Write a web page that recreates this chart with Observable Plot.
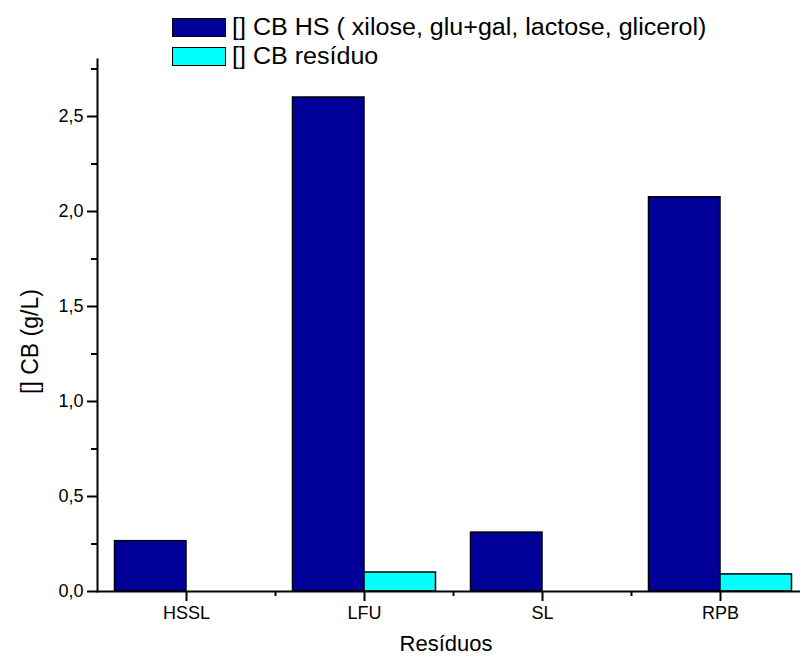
<!DOCTYPE html>
<html>
<head>
<meta charset="utf-8">
<script src="https://cdn.jsdelivr.net/npm/d3@7"></script>
<script src="https://cdn.jsdelivr.net/npm/@observablehq/plot@0.6"></script>
<style>
  body { margin: 0; background: #fff; overflow: hidden; }
  #chart { position: relative; width: 800px; height: 666px; }
  .legend { position: absolute; left: 172px; top: 13px; font-family: "Liberation Sans", Arial, sans-serif; font-size: 23px; color: #000; }
  .item { display: flex; align-items: center; height: 29px; }
  .sw { width: 52px; height: 17px; border: 1.5px solid #000; margin-right: 6px; flex: none; }
  .lbl { display: inline-block; white-space: nowrap; transform: scaleX(1.09); transform-origin: left center; }
</style>
</head>
<body>
<div id="chart"></div>
<script>
// Concentração de CB por resíduo
const categories = ["HSSL", "LFU", "SL", "RPB"];
const seriesNames = ["[] CB HS ( xilose, glu+gal, lactose, glicerol)", "[] CB resíduo"];
const hsValues = [0.265, 2.60, 0.31, 2.075];
const residuoValues = [0, 0.10, 0, 0.09];
const colors = ["#000099", "#00ffff"];
const yTicks = [0, 0.5, 1.0, 1.5, 2.0, 2.5];
const yMinorTicks = [0.25, 0.75, 1.25, 1.75, 2.25, 2.75];
const boundaryTicks = ["LFU", "SL", "RPB"];

const rows = categories.map((c, i) => ({category: c, hs: hsValues[i], residuo: residuoValues[i]}));
const fmt = d => d.toFixed(1).replace(".", ",");
const font = "'Liberation Sans', Arial, sans-serif";

const chart = Plot.plot({
  width: 800,
  height: 666,
  marginLeft: 97,
  marginRight: 0,
  marginTop: 59,
  marginBottom: 75,
  style: {fontFamily: font, color: "#000", background: "#fff"},
  x: {domain: categories, range: [97, 809], padding: 0, axis: null},
  y: {domain: [0, 2.8], axis: null},
  marks: [
    Plot.barY(rows, {x: "category", y: "hs", fill: colors[0], stroke: "#000", strokeWidth: 1.5, insetLeft: 17.5, insetRight: 89}),
    Plot.barY(rows, {x: "category", y: "residuo", fill: colors[1], stroke: "#000", strokeWidth: 1.5, insetLeft: 89, insetRight: 17.5}),
    Plot.frame({anchor: "left", stroke: "#000", strokeWidth: 2}),
    Plot.ruleY([0], {stroke: "#000", strokeWidth: 2}),
    Plot.axisY(yTicks, {tickSize: 10, tickPadding: 4, tickFormat: fmt, fontSize: 18, strokeWidth: 2, label: null}),
    Plot.axisY(yMinorTicks, {tickSize: 6, tickFormat: () => "", strokeWidth: 2, label: null}),
    Plot.axisX(categories, {tickSize: 10, tickPadding: 5, fontSize: 18, strokeWidth: 2, label: null}),
    Plot.axisX(boundaryTicks, {dx: -89, tickSize: 5, tickFormat: () => "", strokeWidth: 2, label: null}),
    Plot.text(["[] CB (g/L)"], {frameAnchor: "left", textAnchor: "middle", rotate: -90, dx: -67, dy: 16, fontSize: 23}),
    Plot.text(["Resíduos"], {frameAnchor: "bottom", dy: 59, dx: -3, fontSize: 22})
  ]
});

const container = document.getElementById("chart");
container.appendChild(chart);

// Legenda
const legend = document.createElement("div");
legend.className = "legend";
seriesNames.forEach((name, i) => {
  const item = document.createElement("div");
  item.className = "item";
  const sw = document.createElement("span");
  sw.className = "sw";
  sw.style.background = colors[i];
  const label = document.createElement("span");
  label.className = "lbl";
  label.textContent = name;
  item.appendChild(sw);
  item.appendChild(label);
  legend.appendChild(item);
});
container.appendChild(legend);
</script>
</body>
</html>
